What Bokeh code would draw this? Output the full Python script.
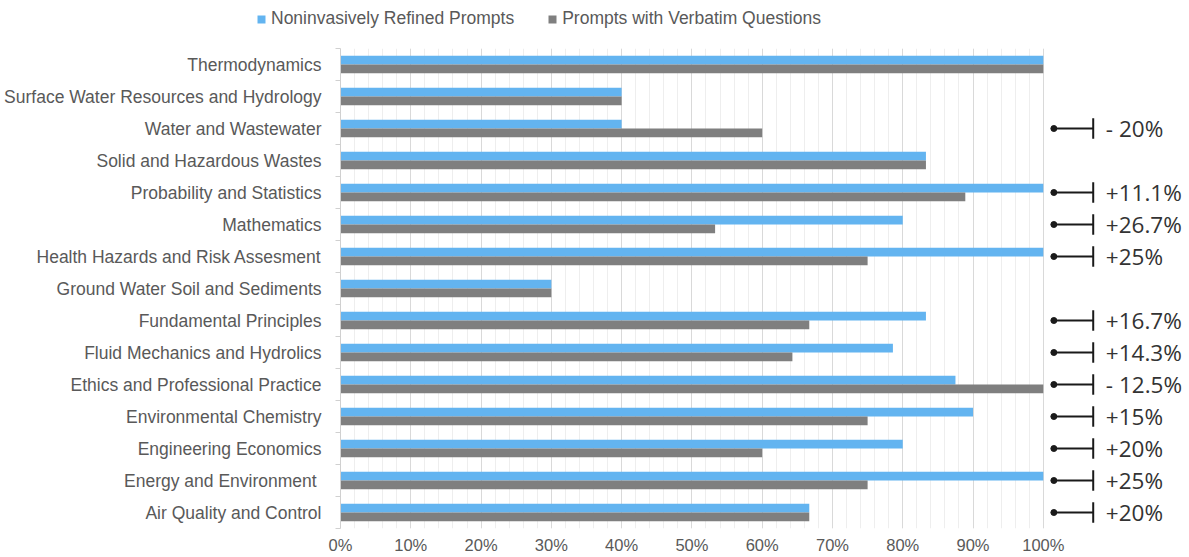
from bokeh.plotting import figure
from bokeh.layouts import column, row
from bokeh.models import ColumnDataSource, FixedTicker, Legend, LegendItem
from bokeh.core.properties import value
from bokeh.transform import dodge
from bokeh.embed import file_html
from bokeh.resources import INLINE

# Topics, listed top to bottom
topics = [
    "Thermodynamics",
    "Surface Water Resources and Hydrology",
    "Water and Wastewater",
    "Solid and Hazardous Wastes",
    "Probability and Statistics",
    "Mathematics",
    "Health Hazards and Risk Assesment",
    "Ground Water Soil and Sediments",
    "Fundamental Principles",
    "Fluid Mechanics and Hydrolics",
    "Ethics and Professional Practice",
    "Environmental Chemistry",
    "Engineering Economics",
    "Energy and Environment ",
    "Air Quality and Control",
]
# Accuracy (%) per topic
refined = [100, 40, 40, 83.3, 100, 80, 100, 30, 83.3, 78.6, 87.5, 90, 80, 100, 66.7]
verbatim = [100, 40, 60, 83.3, 88.9, 53.3, 75, 30, 66.7, 64.3, 100, 75, 60, 75, 66.7]
# Change notes shown at the right of selected topics
change_labels = ["", "", "- 20%", "", "+11.1%", "+26.7%", "+25%", "",
                 "+16.7%", "+14.3%", "- 12.5%", "+15%", "+20%", "+25%", "+20%"]
series_names = ["Noninvasively Refined Prompts", "Prompts with Verbatim Questions"]
x_ticks = [0, 10, 20, 30, 40, 50, 60, 70, 80, 90, 100]

n = len(topics)
ypos = [n - 1 - i for i in range(n)]

BLUE = "#63b4f0"
GRAY = "#7f7f7f"
TEXT = "#595959"

# ---- main bar chart ----
p = figure(width=1189, height=509, output_backend="svg", toolbar_location=None,
           x_range=(0, 120.8), y_range=(-0.5, n - 0.5),
           min_border_left=340, min_border_right=0, min_border_top=0, min_border_bottom=29)
p.outline_line_color = None

src = ColumnDataSource(dict(y=ypos, refined=refined, verbatim=verbatim))
off = 0.135
h = 0.27
p.hbar(y=dodge("y", off), right="refined", left=0, height=h, source=src,
       fill_color=BLUE, line_color=None)
p.hbar(y=dodge("y", -off), right="verbatim", left=0, height=h, source=src,
       fill_color=GRAY, line_color=None)

# change annotations to the right of the 100% line
ay = [ypos[i] for i in range(n) if change_labels[i]]
at = [change_labels[i] for i in range(n) if change_labels[i]]
asrc = ColumnDataSource(dict(y=ay, t=at, x0=[101.5] * len(ay), x1=[107.1] * len(ay),
                             xt=[108.9] * len(ay)))
p.segment(x0="x0", y0="y", x1="x1", y1="y", source=asrc, line_color="#1a1a1a", line_width=2)
p.segment(x0="x1", y0=dodge("y", -0.32), x1="x1", y1=dodge("y", 0.32), source=asrc,
          line_color="#1a1a1a", line_width=2)
p.scatter(x="x0", y="y", source=asrc, size=6, color="#1a1a1a")
p.text(x="xt", y="y", text="t", source=asrc, text_font=value("Open Sans"),
       text_font_size="22.5px", text_color="#333333", text_baseline="middle")

# x axis: labels only
p.xaxis.ticker = FixedTicker(ticks=x_ticks, minor_ticks=list(range(0, 101, 2)))
p.xaxis.major_label_overrides = {t: f"{t}%" for t in x_ticks}
p.xaxis.axis_line_color = None
p.xaxis.major_tick_line_color = None
p.xaxis.minor_tick_line_color = None
p.xaxis.major_tick_out = 0
p.xaxis.minor_tick_out = 0
p.xaxis.major_label_text_font = "Liberation Sans"
p.xaxis.major_label_text_font_size = "16.5px"
p.xaxis.major_label_text_color = TEXT
p.xaxis.major_label_standoff = 7

p.xgrid.grid_line_color = "#d9d9d9"
p.xgrid.minor_grid_line_color = "#eeeeee"
p.ygrid.grid_line_color = None

# y axis: labels at row centres, small ticks at row boundaries
p.yaxis.ticker = FixedTicker(ticks=ypos, minor_ticks=[k - 0.5 for k in range(n + 1)])
p.yaxis.major_label_overrides = {ypos[i]: topics[i] for i in range(n)}
p.yaxis.axis_line_color = "#d0d0d0"
p.yaxis.major_tick_line_color = None
p.yaxis.minor_tick_line_color = "#d0d0d0"
p.yaxis.minor_tick_out = 5
p.yaxis.minor_tick_in = 0
p.yaxis.major_tick_out = 0
p.yaxis.major_label_standoff = 14
p.yaxis.major_label_text_font = "Liberation Sans"
p.yaxis.major_label_text_font_size = "17.5px"
p.yaxis.major_label_text_color = TEXT

# ---- legend strip above the chart ----
lg = figure(width=1189, height=48, output_backend="svg", toolbar_location=None,
            x_range=(0, 1), y_range=(0, 1), x_axis_location=None, y_axis_location=None,
            min_border_left=0, min_border_right=0, min_border_top=0, min_border_bottom=0)
lg.outline_line_color = None
lg.grid.visible = False
# swatch sources sit outside the visible range; only their legend entries show
sw = ColumnDataSource(dict(y=[-5], right=[-5]))
k1 = lg.hbar(y="y", right="right", left=-6, height=0.1, source=sw, fill_color=BLUE, line_color=None)
k2 = lg.hbar(y="y", right="right", left=-6, height=0.1, source=sw, fill_color=GRAY, line_color=None)
legend = Legend(items=[LegendItem(label=series_names[0], renderers=[k1]),
                       LegendItem(label=series_names[1], renderers=[k2])],
                orientation="horizontal", location=(256, 19),
                glyph_width=10, glyph_height=10, label_standoff=5, spacing=33,
                label_text_font="Liberation Sans", label_text_font_size="17.5px",
                label_text_color=TEXT, border_line_color=None, background_fill_alpha=0,
                padding=0, margin=0)
lg.add_layout(legend, "center")

layout = column(row(lg), row(p), spacing=0)
open("out.html", "w").write(file_html(layout, INLINE))
